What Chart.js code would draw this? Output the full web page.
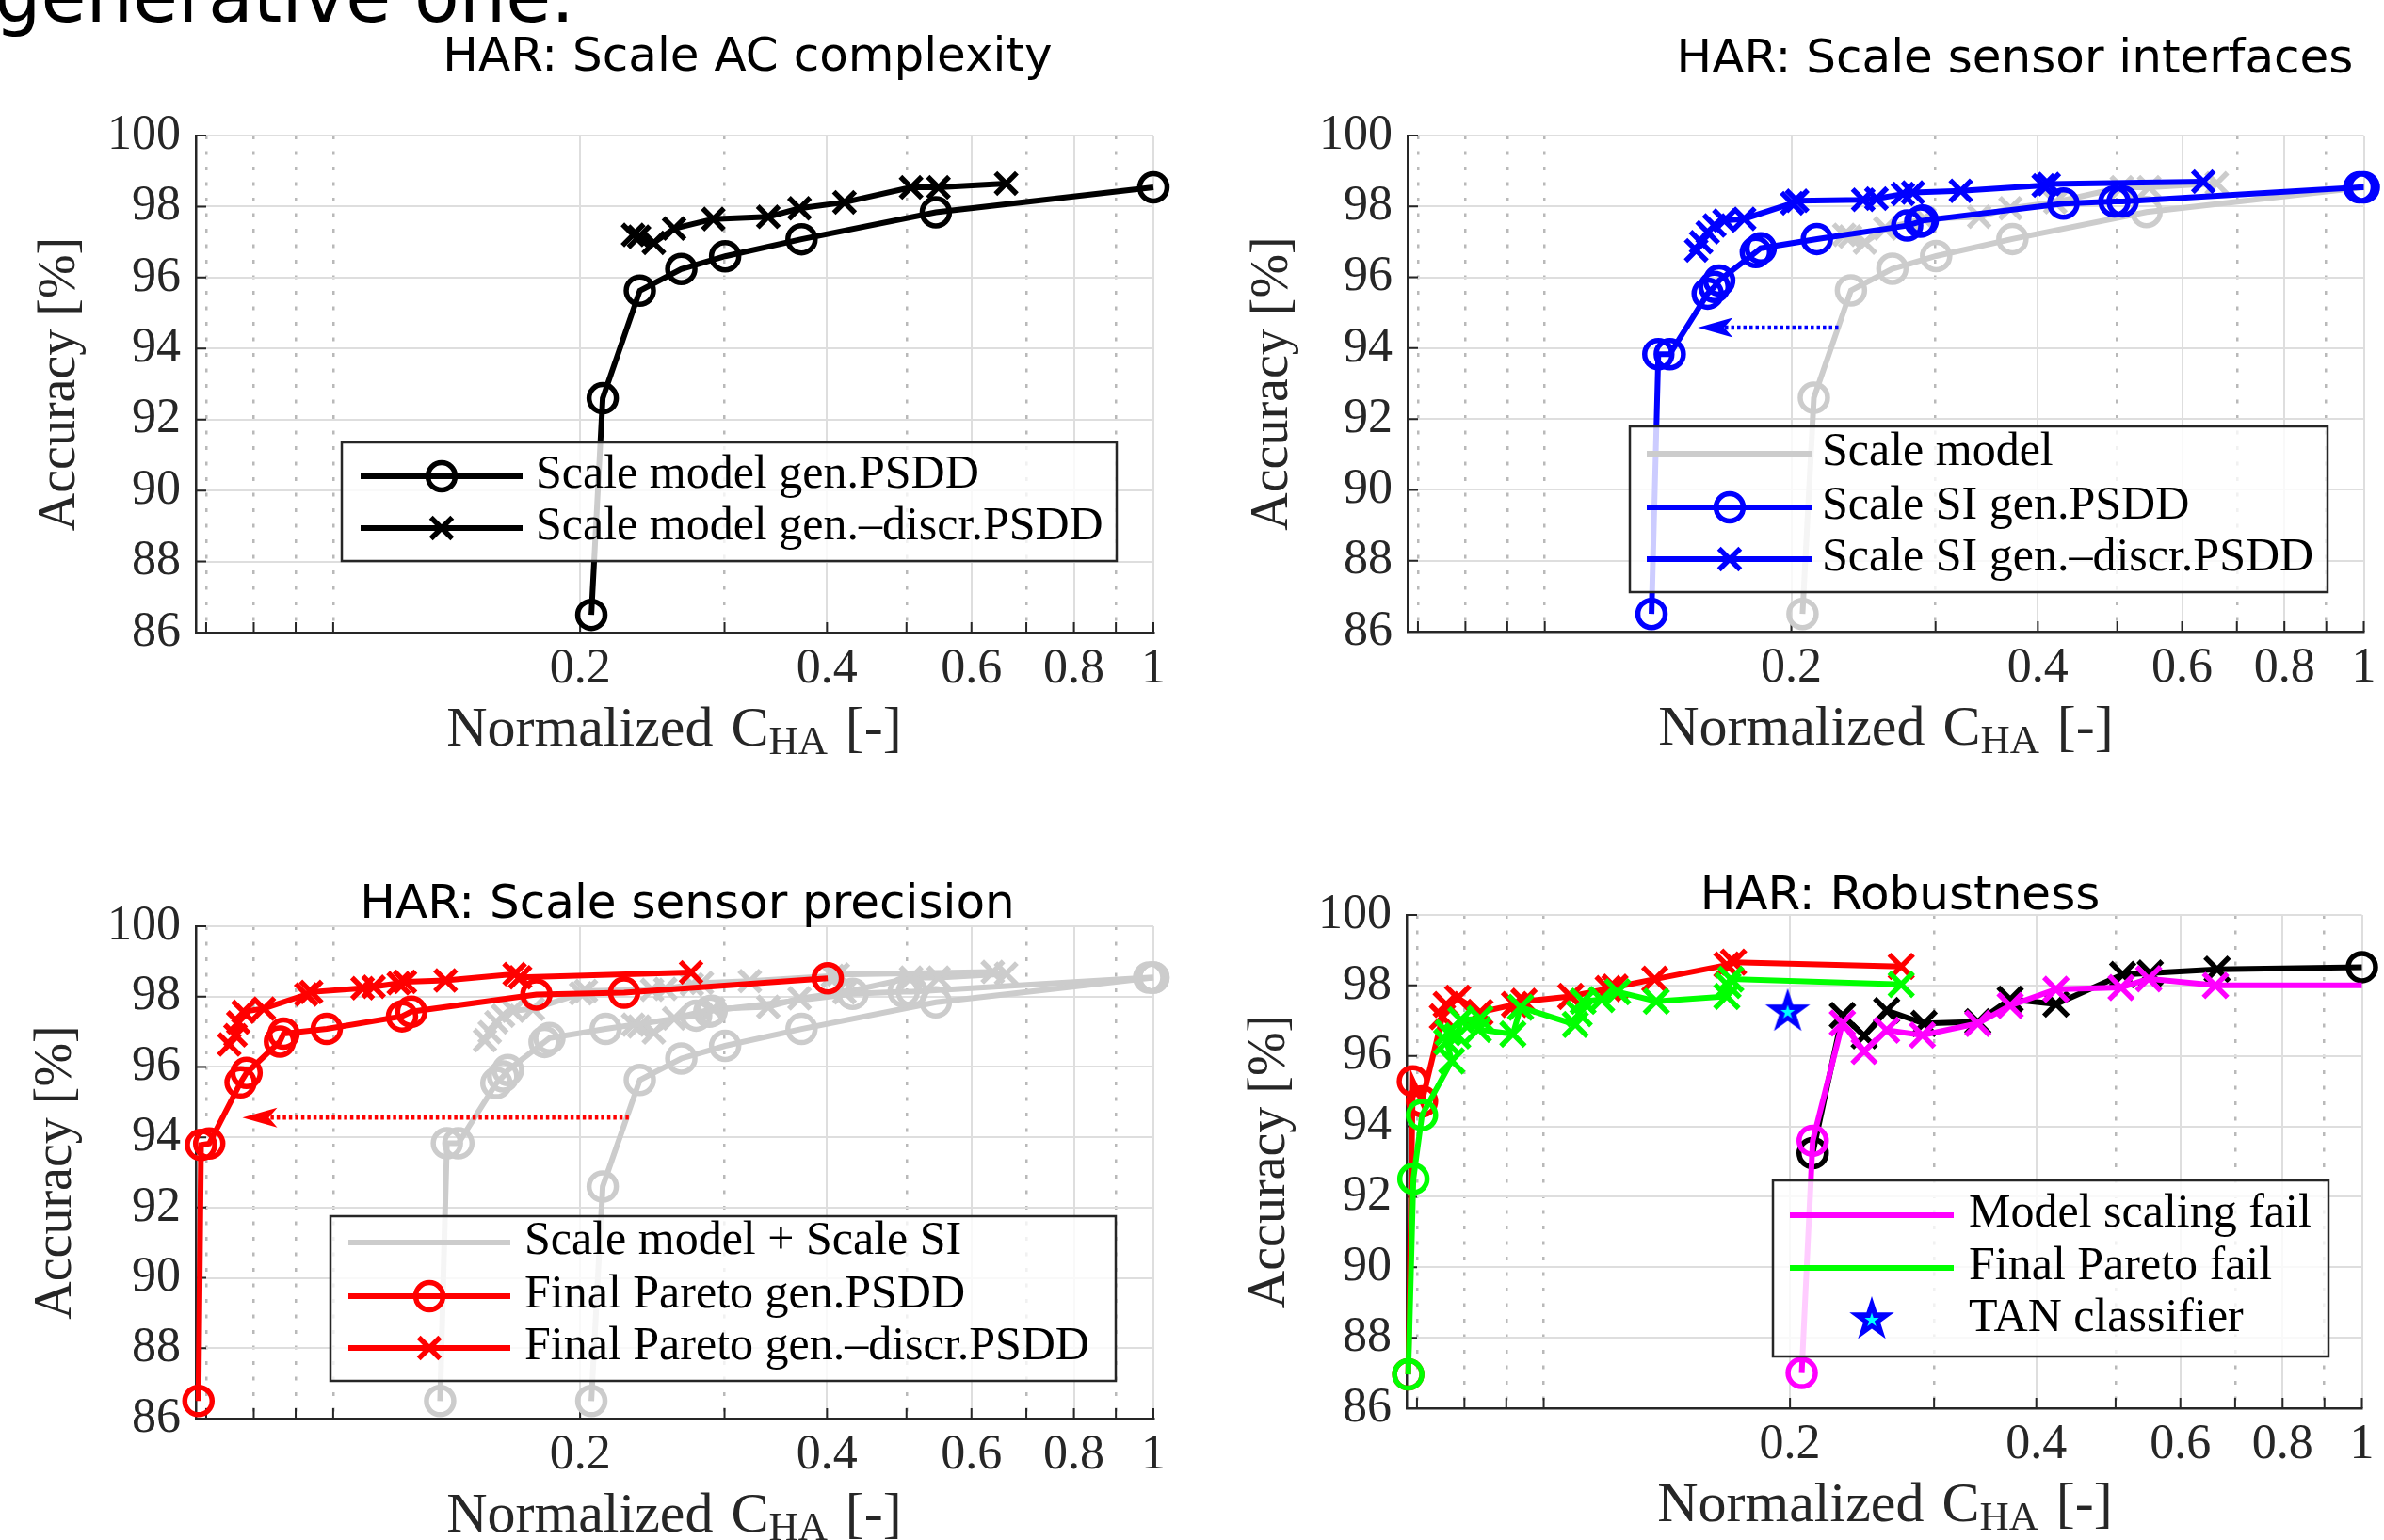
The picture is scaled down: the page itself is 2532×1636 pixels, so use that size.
<!DOCTYPE html>
<html>
<head>
<meta charset="utf-8">
<script src="https://cdn.jsdelivr.net/npm/chart.js@4/dist/chart.umd.min.js"></script>
<style>
html,body{margin:0;padding:0;background:#fff;}
#page{position:relative;width:2532px;height:1636px;overflow:hidden;background:#fff;}
canvas{position:absolute;}
.t{position:absolute;white-space:nowrap;transform:translateX(-50%);}
.title{font-family:'DejaVu Sans',sans-serif;font-size:50px;line-height:50px;color:#000;}
.xl{font-family:'Liberation Serif',serif;font-size:60px;line-height:60px;color:#262626;word-spacing:4px;}
.xl .sub{font-size:0.72em;position:relative;top:0.2em;}
.corner{position:absolute;left:-6px;top:-43px;font-family:'DejaVu Sans',sans-serif;font-size:78px;line-height:78px;color:#000;white-space:nowrap;}
</style>
</head>
<body>
<div id="page">
  <canvas id="c1" width="1266" height="818" style="left:0;top:0"></canvas>
  <canvas id="c2" width="1266" height="818" style="left:1266px;top:0"></canvas>
  <canvas id="c3" width="1266" height="818" style="left:0;top:818px"></canvas>
  <canvas id="c4" width="1266" height="818" style="left:1266px;top:818px"></canvas>
  <div class="corner">generative one.</div>
  <div class="t title" style="left:794px;top:33px">HAR: Scale AC complexity</div>
  <div class="t title" style="left:2140px;top:35px">HAR: Scale sensor interfaces</div>
  <div class="t title" style="left:730px;top:933px">HAR: Scale sensor precision</div>
  <div class="t title" style="left:2018px;top:924px">HAR: Robustness</div>
  <div class="t xl" style="left:716px;top:742px">Normalized C<span class="sub">HA</span> [-]</div>
  <div class="t xl" style="left:2003px;top:741px">Normalized C<span class="sub">HA</span> [-]</div>
  <div class="t xl" style="left:716px;top:1577px">Normalized C<span class="sub">HA</span> [-]</div>
  <div class="t xl" style="left:2002px;top:1566px">Normalized C<span class="sub">HA</span> [-]</div>
</div>
<script>
// ---------------- axis ticks ----------------
const XTICK_VALUES = [0.07, 0.08, 0.09, 0.1, 0.2, 0.3, 0.4, 0.5, 0.6, 0.7, 0.8, 0.9, 1];
const XTICK_LABELS = ['', '', '', '', '0.2', '', '0.4', '', '0.6', '', '0.8', '', '1'];
const XTICK_MAJOR = [0.2, 0.4, 0.6, 0.8, 1];
const X_MIN = 0.068, X_MAX = 1;
const Y_TICKS = [86, 88, 90, 92, 94, 96, 98, 100];
const Y_MIN = 86, Y_MAX = 100;
const Y_TITLE = 'Accuracy [%]';

// ---------------- subplot 1: scale AC complexity ----------------
const MODEL_GEN_X = [0.2064, 0.2131, 0.2365, 0.2657, 0.3005, 0.3724, 0.5429, 1.0];
const MODEL_GEN_Y = [86.5, 92.6, 95.63, 96.24, 96.6, 97.08, 97.84, 98.54];
const MODEL_GD_X = [0.2321, 0.2360, 0.2460, 0.2604, 0.2907, 0.3392, 0.3703, 0.4201, 0.5065, 0.5470, 0.6614];
const MODEL_GD_Y = [97.2, 97.15, 96.98, 97.38, 97.65, 97.71, 97.95, 98.12, 98.54, 98.54, 98.65];

// ---------------- subplot 2: scale sensor interfaces ----------------
const SI_GEN_X = [0.135, 0.1376, 0.1421, 0.1581, 0.1611, 0.1633, 0.181, 0.1835, 0.2149, 0.277, 0.2874, 0.2894, 0.4298, 0.4961, 0.5077, 0.988, 1.0];
const SI_GEN_Y = [86.5, 93.83, 93.83, 95.54, 95.73, 95.91, 96.71, 96.82, 97.08, 97.46, 97.57, 97.6, 98.08, 98.14, 98.14, 98.54, 98.54];
const SI_GD_X = [0.1531, 0.1552, 0.1581, 0.1611, 0.1657, 0.1752, 0.2005, 0.2033, 0.2448, 0.2541, 0.2737, 0.2815, 0.3221, 0.4066, 0.4124, 0.637];
const SI_GD_Y = [96.76, 96.99, 97.27, 97.46, 97.6, 97.65, 98.09, 98.16, 98.19, 98.22, 98.35, 98.39, 98.44, 98.59, 98.63, 98.7];
const ARROW_SI_X = [0.2283, 0.1538];
const ARROW_SI_Y = [94.58, 94.58];

// ---------------- subplot 3: scale sensor precision ----------------
const PARETO_GEN_X = [0.0685, 0.0690, 0.0706, 0.0771, 0.0784, 0.0861, 0.0870, 0.0982, 0.1213, 0.1245, 0.1769, 0.2263, 0.4008];
const PARETO_GEN_Y = [86.5, 93.78, 93.82, 95.56, 95.83, 96.72, 96.95, 97.08, 97.44, 97.57, 98.06, 98.11, 98.52];
const PARETO_GD_X = [0.0747, 0.0760, 0.0766, 0.0777, 0.0823, 0.0927, 0.0940, 0.1086, 0.1120, 0.1202, 0.1223, 0.1371, 0.1664, 0.1690, 0.2731];
const PARETO_GD_Y = [96.64, 96.9, 97.26, 97.57, 97.66, 98.06, 98.13, 98.24, 98.28, 98.38, 98.42, 98.46, 98.64, 98.55, 98.69];
const ARROW_SP_X = [0.2293, 0.0775];
const ARROW_SP_Y = [94.56, 94.56];

// ---------------- subplot 4: robustness ----------------
// marker codes: 'o' circle, 'x' cross, '' none
const ROB_MODEL_X = [0.2132, 0.2318, 0.2464, 0.2625, 0.2916, 0.3393, 0.3717, 0.4228, 0.5101, 0.5512, 0.6654, 1.0];
const ROB_MODEL_Y = [93.24, 97.15, 96.57, 97.29, 96.92, 96.97, 97.61, 97.47, 98.31, 98.35, 98.46, 98.52];
const ROB_MODEL_M = ['o', 'x', 'x', 'x', 'x', 'x', 'x', 'x', 'x', 'x', 'x', 'o'];
const ROB_PARETO_X = [0.0683, 0.0692, 0.0710, 0.0752, 0.0760, 0.0785, 0.0836, 0.0921, 0.0946, 0.1079, 0.1199, 0.1222, 0.1367, 0.1674, 0.1706, 0.2735];
const ROB_PARETO_Y = [86.96, 95.28, 94.71, 97.11, 97.46, 97.64, 97.24, 97.46, 97.55, 97.69, 97.91, 97.95, 98.18, 98.58, 98.66, 98.54];
const ROB_PARETO_M = ['o', 'o', 'o', 'x', 'x', 'x', 'x', 'x', 'x', 'x', 'x', 'x', 'x', 'x', 'x', 'x'];
const FAIL_MODEL_X = [0.2067, 0.2132, 0.2318, 0.2464, 0.2625, 0.2903, 0.3393, 0.3717, 0.4228, 0.5078, 0.5488, 0.6624, 1.0];
const FAIL_MODEL_Y = [87.0, 93.59, 96.93, 96.13, 96.73, 96.59, 96.92, 97.43, 97.89, 97.94, 98.19, 98.0, 98.0];
const FAIL_MODEL_M = ['o', 'o', 'x', 'x', 'x', 'x', 'x', 'x', 'x', 'x', 'x', 'x', ''];
const FAIL_PARETO_X = [0.0683, 0.0693, 0.0710, 0.0772, 0.0761, 0.0764, 0.0785, 0.0792, 0.0836, 0.0832, 0.0917, 0.0937, 0.1093, 0.1105, 0.1117, 0.1177, 0.1231, 0.1373, 0.1674, 0.1680, 0.1693, 0.2735];
const FAIL_PARETO_Y = [86.96, 92.51, 94.32, 95.86, 96.4, 96.66, 96.57, 97.02, 97.06, 96.75, 96.62, 97.38, 96.89, 97.2, 97.55, 97.6, 97.82, 97.55, 97.69, 98.0, 98.18, 98.03];
const FAIL_PARETO_M = ['o', 'o', 'o', 'x', 'x', 'x', 'x', 'x', 'x', 'x', 'x', 'x', 'x', 'x', 'x', 'x', 'x', 'x', 'x', 'x', 'x', 'x'];
const TAN_X = [0.1987];
const TAN_Y = [97.25];

// ---------------- legend labels ----------------
const LEG1 = ['Scale model gen.PSDD', 'Scale model gen.\u2013discr.PSDD'];
const LEG2 = ['Scale model', 'Scale SI gen.PSDD', 'Scale SI gen.\u2013discr.PSDD'];
const LEG3 = ['Scale model + Scale SI', 'Final Pareto gen.PSDD', 'Final Pareto gen.\u2013discr.PSDD'];
const LEG4 = ['Model scaling fail', 'Final Pareto fail', 'TAN classifier'];

// ---------------- styling ----------------
const SERIF = "'Liberation Serif', serif";
const AXC = '#262626';
const C_BLACK = '#000000', C_GRAY = '#cccccc', C_BLUE = '#0000ff', C_RED = '#ff0000', C_GREEN = '#00ff00', C_MAG = '#ff00ff';
const LW = 6, MW = 5.5, CIRC_R = 14.5, CROSS_R = 16, CROSS_R4 = 18;
const MAJOR_COL = '#dedede', MINOR_COL = '#b9b9b9';

function makeStar(R, r2) {
  const s = Math.ceil(2 * R + 4);
  const c = document.createElement('canvas');
  c.width = s; c.height = s;
  const g = c.getContext('2d');
  function star(cx, cy, RR, col) {
    g.beginPath();
    for (let k = 0; k < 10; k++) {
      const rr = (k % 2) ? RR * 0.382 : RR;
      const a = -Math.PI / 2 + k * Math.PI / 5;
      g.lineTo(cx + rr * Math.cos(a), cy + rr * Math.sin(a));
    }
    g.closePath(); g.fillStyle = col; g.fill();
  }
  star(s / 2, s / 2, R, '#0000ff');
  star(s / 2, s / 2 + 0.5, r2, '#00ffff');
  return c;
}
const STAR = makeStar(25, 8);

function fill(n, m) { return Array(n).fill(m); }

function ds(xs, ys, color, marks, order, crossR, showLine) {
  const cr = crossR || CROSS_R;
  return {
    data: xs.map((x, i) => ({ x: x, y: ys[i] })),
    showLine: showLine !== false,
    borderColor: color,
    borderWidth: LW,
    pointStyle: marks.map(m => m === 'o' ? 'circle' : m === 'x' ? 'crossRot' : m === '*' ? STAR : 'circle'),
    pointRadius: marks.map(m => m === 'o' ? CIRC_R : m === 'x' ? cr : m === '*' ? 10 : 0),
    pointBorderColor: color,
    pointBackgroundColor: 'rgba(0,0,0,0)',
    pointBorderWidth: MW,
    order: order,
    clip: false
  };
}

function drawMarker(ctx, m, x, y, color, cr) {
  ctx.save();
  ctx.strokeStyle = color; ctx.lineWidth = MW;
  if (m === 'o') {
    ctx.beginPath(); ctx.arc(x, y, CIRC_R, 0, Math.PI * 2); ctx.stroke();
  } else if (m === 'x') {
    const d = (cr || CROSS_R) * Math.SQRT1_2;
    ctx.beginPath();
    ctx.moveTo(x - d, y - d); ctx.lineTo(x + d, y + d);
    ctx.moveTo(x + d, y - d); ctx.lineTo(x - d, y + d);
    ctx.stroke();
  } else if (m === '*') {
    ctx.drawImage(STAR, x - STAR.width / 2, y - STAR.height / 2);
  }
  ctx.restore();
}

function drawInnerTicks(chart) {
  const { ctx, chartArea: a, scales } = chart;
  ctx.save();
  ctx.strokeStyle = AXC; ctx.lineWidth = 2;
  ctx.beginPath();
  scales.x.ticks.forEach(t => {
    const px = scales.x.getPixelForValue(t.value);
    if (px < a.left - 1 || px > a.right + 1) return;
    ctx.moveTo(px, a.bottom); ctx.lineTo(px, a.bottom - 11);
  });
  scales.y.ticks.forEach(t => {
    const py = scales.y.getPixelForValue(t.value);
    ctx.moveTo(a.left, py); ctx.lineTo(a.left + 11, py);
  });
  ctx.stroke();
  ctx.restore();
}

function drawArrow(chart, xs, ys, color) {
  const ctx = chart.ctx, sx = chart.scales.x, sy = chart.scales.y;
  const x0 = sx.getPixelForValue(xs[0]), y0 = sy.getPixelForValue(ys[0]);
  const x1 = sx.getPixelForValue(xs[1]), y1 = sy.getPixelForValue(ys[1]);
  const ang = Math.atan2(y1 - y0, x1 - x0);
  const L = 37, H = 10.5, N = 28;
  const cs = Math.cos(ang), sn = Math.sin(ang);
  const nx = x1 - cs * N, ny = y1 - sn * N;
  const bx = x1 - cs * L, by = y1 - sn * L;
  const px = -sn * H, py = cs * H;
  ctx.save();
  ctx.strokeStyle = color; ctx.lineWidth = 4.5; ctx.setLineDash([3.5, 3]);
  ctx.beginPath(); ctx.moveTo(x0, y0); ctx.lineTo(nx, ny); ctx.stroke();
  ctx.setLineDash([]);
  ctx.fillStyle = color;
  ctx.beginPath(); ctx.moveTo(x1, y1); ctx.lineTo(bx + px, by + py); ctx.lineTo(nx, ny); ctx.lineTo(bx - px, by - py); ctx.closePath(); ctx.fill();
  ctx.restore();
}

function drawLegend(chart, L, ox, oy) {
  const ctx = chart.ctx;
  ctx.save();
  ctx.fillStyle = 'rgba(255,255,255,0.8)';
  ctx.fillRect(L.box[0] - ox, L.box[1] - oy, L.box[2] - L.box[0], L.box[3] - L.box[1]);
  ctx.strokeStyle = AXC; ctx.lineWidth = 2.5;
  ctx.strokeRect(L.box[0] - ox, L.box[1] - oy, L.box[2] - L.box[0], L.box[3] - L.box[1]);
  L.items.forEach((it, i) => {
    const cy = L.rows[i] - oy;
    if (it.line) {
      ctx.strokeStyle = it.color; ctx.lineWidth = LW;
      ctx.beginPath(); ctx.moveTo(L.line[0] - ox, cy); ctx.lineTo(L.line[1] - ox, cy); ctx.stroke();
    }
    if (it.marker) drawMarker(ctx, it.marker, (L.line[0] + L.line[1]) / 2 - ox, cy, it.color, CROSS_R);
    ctx.fillStyle = '#000';
    ctx.font = '50px ' + SERIF;
    ctx.textBaseline = 'alphabetic';
    ctx.textAlign = 'left';
    ctx.fillText(it.text, L.textX - ox, cy + 12);
  });
  ctx.restore();
}

function isMinorTick(c) {
  return !!(c && c.tick && XTICK_MAJOR.indexOf(c.tick.value) < 0);
}

function makeChart(id, cfg) {
  const decor = {
    id: 'decor' + id,
    beforeDatasetsDraw(chart) { drawInnerTicks(chart); },
    afterDatasetsDraw(chart) {
      if (cfg.arrow) drawArrow(chart, cfg.arrow.x, cfg.arrow.y, cfg.arrow.color);
      drawLegend(chart, cfg.legend, cfg.ox, cfg.oy);
    }
  };
  return new Chart(document.getElementById(id), {
    type: 'scatter',
    data: { datasets: cfg.datasets },
    options: {
      responsive: false, animation: false, devicePixelRatio: 1, events: [],
      layout: { padding: { left: 0, right: 1266 - cfg.area[1], top: cfg.area[2], bottom: 818 - cfg.area[3] - 60 } },
      plugins: { legend: { display: false }, tooltip: { enabled: false }, title: { display: false } },
      scales: {
        x: {
          type: 'logarithmic', min: X_MIN, max: X_MAX,
          afterBuildTicks: s => { s.ticks = XTICK_VALUES.map(v => ({ value: v })); },
          afterFit: s => { s.height = 60; s.paddingLeft = 0; s.paddingRight = 0; },
          ticks: {
            autoSkip: false, maxRotation: 0, minRotation: 0, padding: 8, color: AXC,
            font: { family: SERIF, size: 52 },
            callback: v => { const i = XTICK_VALUES.indexOf(v); return i >= 0 ? XTICK_LABELS[i] : ''; }
          },
          grid: {
            drawTicks: false,
            color: c => isMinorTick(c) ? MINOR_COL : MAJOR_COL,
            lineWidth: c => isMinorTick(c) ? 2.5 : 2
          },
          border: { color: AXC, width: 2.5, dash: c => isMinorTick(c) ? [4, 12.5] : [] }
        },
        y: {
          type: 'linear', min: Y_MIN, max: Y_MAX,
          afterBuildTicks: s => { s.ticks = Y_TICKS.map(v => ({ value: v })); },
          afterFit: s => { s.width = cfg.area[0]; s.paddingTop = 0; s.paddingBottom = 0; },
          ticks: { padding: 16, color: AXC, font: { family: SERIF, size: 52 }, callback: v => String(v) },
          grid: { drawTicks: false, color: MAJOR_COL, lineWidth: 2 },
          border: { color: AXC, width: 2.5 },
          title: { display: true, text: Y_TITLE, color: AXC, font: { family: SERIF, size: 56 }, padding: { top: cfg.yTitlePad, bottom: 0 } }
        }
      }
    },
    plugins: [decor]
  });
}

// ---------- subplot 1 ----------
makeChart('c1', {
  ox: 0, oy: 0, area: [208, 1225, 144, 672], yTitlePad: 31,
  datasets: [
    ds(MODEL_GEN_X, MODEL_GEN_Y, C_BLACK, fill(MODEL_GEN_X.length, 'o'), 1),
    ds(MODEL_GD_X, MODEL_GD_Y, C_BLACK, fill(MODEL_GD_X.length, 'x'), 0)
  ],
  legend: {
    box: [363, 470, 1186, 596], line: [383, 555], textX: 569, rows: [506, 561],
    items: [
      { text: LEG1[0], color: C_BLACK, line: true, marker: 'o' },
      { text: LEG1[1], color: C_BLACK, line: true, marker: 'x' }
    ]
  }
});

// ---------- subplot 2 ----------
makeChart('c2', {
  ox: 1266, oy: 0, area: [229, 1246, 144, 671], yTitlePad: 53,
  arrow: { x: ARROW_SI_X, y: ARROW_SI_Y, color: C_BLUE },
  datasets: [
    ds(MODEL_GEN_X, MODEL_GEN_Y, C_GRAY, fill(MODEL_GEN_X.length, 'o'), 11),
    ds(MODEL_GD_X, MODEL_GD_Y, C_GRAY, fill(MODEL_GD_X.length, 'x'), 10),
    ds(SI_GEN_X, SI_GEN_Y, C_BLUE, fill(SI_GEN_X.length, 'o'), 1),
    ds(SI_GD_X, SI_GD_Y, C_BLUE, fill(SI_GD_X.length, 'x'), 0)
  ],
  legend: {
    box: [1731, 453, 2472, 629], line: [1749, 1925], textX: 1935, rows: [482, 539, 594],
    items: [
      { text: LEG2[0], color: C_GRAY, line: true, marker: null },
      { text: LEG2[1], color: C_BLUE, line: true, marker: 'o' },
      { text: LEG2[2], color: C_BLUE, line: true, marker: 'x' }
    ]
  }
});

// ---------- subplot 3 ----------
makeChart('c3', {
  ox: 0, oy: 818, area: [208, 1225, 166, 689], yTitlePad: 27,
  arrow: { x: ARROW_SP_X, y: ARROW_SP_Y, color: C_RED },
  datasets: [
    ds(MODEL_GEN_X, MODEL_GEN_Y, C_GRAY, fill(MODEL_GEN_X.length, 'o'), 13),
    ds(MODEL_GD_X, MODEL_GD_Y, C_GRAY, fill(MODEL_GD_X.length, 'x'), 12),
    ds(SI_GEN_X, SI_GEN_Y, C_GRAY, fill(SI_GEN_X.length, 'o'), 11),
    ds(SI_GD_X, SI_GD_Y, C_GRAY, fill(SI_GD_X.length, 'x'), 10),
    ds(PARETO_GEN_X, PARETO_GEN_Y, C_RED, fill(PARETO_GEN_X.length, 'o'), 0),
    ds(PARETO_GD_X, PARETO_GD_Y, C_RED, fill(PARETO_GD_X.length, 'x'), 1)
  ],
  legend: {
    box: [351, 1292, 1185, 1467], line: [370, 542], textX: 557, rows: [1320, 1377, 1432],
    items: [
      { text: LEG3[0], color: C_GRAY, line: true, marker: null },
      { text: LEG3[1], color: C_RED, line: true, marker: 'o' },
      { text: LEG3[2], color: C_RED, line: true, marker: 'x' }
    ]
  }
});

// ---------- subplot 4 ----------
makeChart('c4', {
  ox: 1266, oy: 818, area: [228, 1245, 154, 678], yTitlePad: 50,
  datasets: [
    ds(ROB_MODEL_X, ROB_MODEL_Y, C_BLACK, ROB_MODEL_M, 4, CROSS_R4),
    ds(ROB_PARETO_X, ROB_PARETO_Y, C_RED, ROB_PARETO_M, 3, CROSS_R4),
    ds(FAIL_MODEL_X, FAIL_MODEL_Y, C_MAG, FAIL_MODEL_M, 2, CROSS_R4),
    ds(FAIL_PARETO_X, FAIL_PARETO_Y, C_GREEN, FAIL_PARETO_M, 1, CROSS_R4),
    ds(TAN_X, TAN_Y, C_BLUE, ['*'], 0, CROSS_R4, false)
  ],
  legend: {
    box: [1883, 1254, 2473, 1441], line: [1901, 2075], textX: 2091, rows: [1291, 1347, 1402],
    items: [
      { text: LEG4[0], color: C_MAG, line: true, marker: null },
      { text: LEG4[1], color: C_GREEN, line: true, marker: null },
      { text: LEG4[2], color: C_BLUE, line: false, marker: '*' }
    ]
  }
});
</script>
</body>
</html>
